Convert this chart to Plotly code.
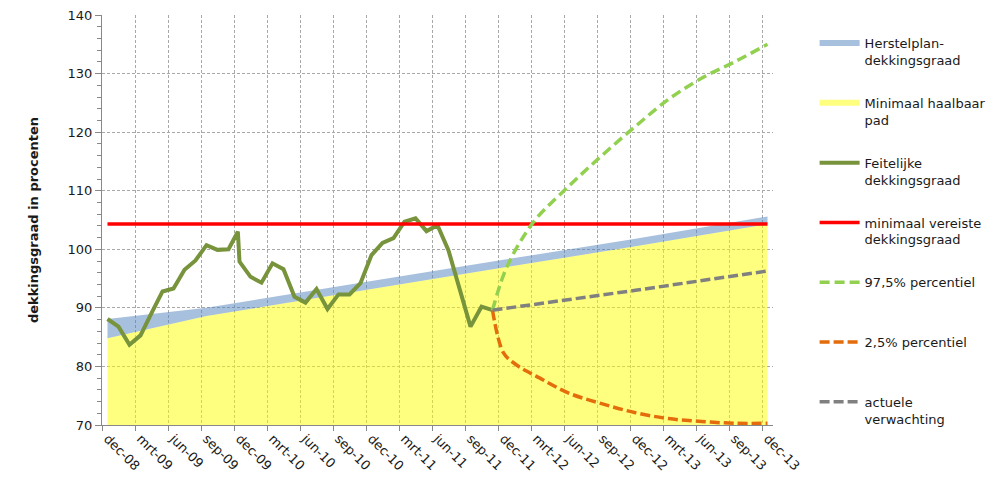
import plotly.graph_objects as go

# ---- category axis (months dec-08 .. dec-13, index 0..60) ----
tick_labels = ["dec-08", "mrt-09", "jun-09", "sep-09", "dec-09", "mrt-10", "jun-10",
               "sep-10", "dec-10", "mrt-11", "jun-11", "sep-11", "dec-11", "mrt-12",
               "jun-12", "sep-12", "dec-12", "mrt-13", "jun-13", "sep-13", "dec-13"]

# ---- Herstelplan / minimaal haalbaar pad ----
plan_months = [0, 9, 24, 36, 48, 60]
herstelplan = [88.1, 90.0, 94.6, 98.2, 101.8, 105.6]
haalbaar_pad = [84.8, 88.6, 93.2, 96.9, 100.5, 104.3]

# ---- feitelijke dekkingsgraad ----
feit_months = [0, 1, 2, 3, 4, 5, 6, 7, 8, 9, 10, 11, 11.85, 12, 13, 14, 15, 16, 17, 18,
               19, 20, 21, 22, 23, 24, 25, 26, 27, 28, 29, 30, 31, 32, 33, 34, 35]
feitelijk = [88.1, 86.8, 83.7, 85.3, 89.1, 92.8, 93.3, 96.5, 98.1, 100.7, 99.9, 100.0,
             103.0, 97.9, 95.3, 94.3, 97.6, 96.6, 91.9, 90.9, 93.2, 89.8, 92.3, 92.3,
             94.2, 99.0, 101.1, 101.9, 104.7, 105.3, 103.1, 104.1, 99.8, 93.5, 86.8,
             90.2, 89.6]

# ---- minimaal vereiste dekkingsgraad ----
vereist_months = [0, 60]
vereist = [104.3, 104.3]

# ---- prognoses ----
prog_months = [35, 36, 37, 38, 39, 42, 45, 48, 51, 54, 57, 60]
p975 = [89.6, 95.6, 99.6, 102.7, 105.3, 110.9, 116.1, 121.0, 125.6, 129.2, 132.0, 135.0]
p025 = [89.6, 82.3, 80.5, 79.3, 78.3, 75.4, 73.6, 72.1, 71.1, 70.6, 70.3, 70.3]
verw_months = [35, 48, 60]
verwachting = [89.6, 93.0, 96.3]

FONT = "DejaVu Sans"
n_cat = 61
fig = go.Figure()

fig.add_trace(go.Scatter(
    x=plan_months, y=haalbaar_pad, mode="none", fill="tozeroy",
    fillcolor="rgba(255,255,0,0.5)", name="Minimaal haalbaar<br>pad",
    legendgroup="g2", legendrank=2))
fig.add_trace(go.Scatter(
    x=plan_months, y=herstelplan, mode="none", fill="tonexty",
    fillcolor="rgba(79,129,189,0.5)", name="Herstelplan-<br>dekkingsgraad",
    legendgroup="g1", legendrank=1))
fig.add_trace(go.Scatter(
    x=feit_months, y=feitelijk, mode="lines",
    line=dict(color="#77933C", width=4), name="Feitelijke<br>dekkingsgraad",
    legendgroup="g3", legendrank=3))
fig.add_trace(go.Scatter(
    x=vereist_months, y=vereist, mode="lines",
    line=dict(color="#FF0000", width=3.5), name="minimaal vereiste<br>dekkingsgraad",
    legendgroup="g4", legendrank=4))
fig.add_trace(go.Scatter(
    x=prog_months, y=p975, mode="lines", line_shape="spline",
    line=dict(color="#92D050", width=3.5, dash="10px,5px"),
    name="97,5% percentiel<br> ", legendgroup="g5", legendrank=5))
fig.add_trace(go.Scatter(
    x=prog_months, y=p025, mode="lines", line_shape="spline",
    line=dict(color="#E46C0A", width=3.5, dash="10px,4px"),
    name="2,5% percentiel<br> ", legendgroup="g6", legendrank=6))
fig.add_trace(go.Scatter(
    x=verw_months, y=verwachting, mode="lines",
    line=dict(color="#808080", width=3.5, dash="10px,4px"),
    name="actuele<br>verwachting", legendgroup="g7", legendrank=7))

grid_pos = [k * 3 - 0.5 for k in range(21)]

fig.update_layout(
    width=994, height=480,
    margin=dict(l=94, r=229, t=7, b=63, autoexpand=False),
    paper_bgcolor="white", plot_bgcolor="white",
    font=dict(family=FONT, size=13, color="#1a1a1a"),
    hovermode=False,
    legend=dict(
        x=1.062, xanchor="left", y=0.968, yanchor="top",
        traceorder="grouped", tracegroupgap=23, valign="top",
        itemwidth=40, font=dict(family=FONT, size=13, color="#1a1a1a"),
        bgcolor="rgba(0,0,0,0)"),
    xaxis=dict(
        range=[-0.5, n_cat - 0.5],
        tickmode="array", tickvals=list(range(0, n_cat, 3)), ticktext=tick_labels,
        tickangle=45, ticks="", showgrid=False, zeroline=False,
        showline=True, linecolor="#888888", linewidth=1,
        tickfont=dict(family=FONT, size=13, color="#1a1a1a"),
        automargin=False, ticklabeloverflow="allow",
        minor=dict(tickmode="array", tickvals=grid_pos, ticks="outside", ticklen=5,
                   tickcolor="#888888", showgrid=True, gridcolor="#a8a8a8",
                   griddash="3px,2px", gridwidth=1)),
    yaxis=dict(
        range=[70, 140], tickmode="linear", tick0=70, dtick=10,
        ticks="outside", ticklen=6, tickcolor="#888888",
        showgrid=True, gridcolor="#a8a8a8", griddash="3px,2px", gridwidth=1,
        zeroline=False, showline=True, linecolor="#888888", linewidth=1,
        tickfont=dict(family=FONT, size=13, color="#1a1a1a"),
        automargin=False, ticklabeloverflow="allow",
        title=dict(text="<b>dekkingsgraad in procenten</b>", standoff=26,
                   font=dict(family=FONT, size=13, color="#1a1a1a")),
        minor=dict(dtick=2, tick0=70, ticks="outside", ticklen=4,
                   tickcolor="#888888", showgrid=False)),
)

fig.write_html("out.html")
